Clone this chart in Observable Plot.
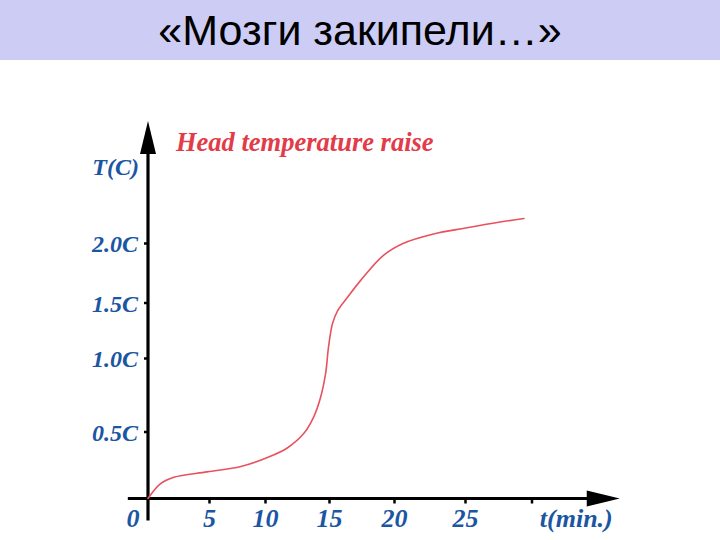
<!DOCTYPE html>
<html>
<head>
<meta charset="utf-8">
<script src="https://cdn.jsdelivr.net/npm/d3@7"></script>
<script src="https://cdn.jsdelivr.net/npm/@observablehq/plot@0.6"></script>
<style>
  html, body { margin: 0; padding: 0; background: #ffffff; }
  #header {
    width: 720px; height: 60px; background: #ccccf5;
    font-family: "Liberation Sans", Arial, sans-serif; font-size: 43px;
    line-height: 60px; text-align: center; color: #000;
  }
  #chart { width: 720px; height: 480px; }
</style>
</head>
<body>
<div id="header">«Мозги закипели…»</div>
<div id="chart"></div>
<script>
// ---- data ----
const timeMin = [0, 1.0, 2.1, 4.8, 7.8, 10.2, 11.7, 13.0, 13.75, 14.3, 14.7, 14.92, 15.23, 15.62, 16.4, 17.4, 19.15, 20.6, 22.75, 25.0, 27.6, 29.4];
const tempC   = [0, 0.11, 0.16, 0.20, 0.24, 0.31, 0.38, 0.49, 0.60, 0.735, 0.90, 1.10, 1.315, 1.43, 1.55, 1.69, 1.90, 2.00, 2.08, 2.13, 2.18, 2.21];
const xTickValues = [5, 10, 15, 20, 25, 30];
const xTickLabels = ["5", "10", "15", "20", "25", ""];
const yTickValues = [0.5, 1.0, 1.5, 2.0];
const yTickLabels = ["0.5C", "1.0C", "1.5C", "2.0C"];
const xAxisExtent = [-1.6, 36.6];   // axis line from .. to arrow tip (minutes)
const yAxisExtent = [-0.17, 3.03];  // axis line from .. to arrow tip (degrees)
const chartTitle = "Head temperature raise";
const yAxisLabel = "T(C)";
const xAxisLabel = "t(min.)";
const originLabel = "0";

const points = timeMin.map((t, i) => ({t, T: tempC[i]}));

const blue = "#1b56a3";
const serif = "Liberation Serif, Times New Roman, serif";

const arrowUp = {draw(ctx) { ctx.moveTo(0, 0); ctx.lineTo(8, 33); ctx.lineTo(-8, 33); ctx.closePath(); }};
const arrowRight = {draw(ctx) { ctx.moveTo(0, 0); ctx.lineTo(-33, 8); ctx.lineTo(-33, -8); ctx.closePath(); }};
const tickDown = {draw(ctx) { ctx.moveTo(0, 1); ctx.lineTo(0, 5); }};
const tickLeft = {draw(ctx) { ctx.moveTo(-1, 0); ctx.lineTo(-4, 0); }};

const plot = Plot.plot({
  width: 720,
  height: 480,
  margin: 0,
  style: {background: "#ffffff", overflow: "visible"},
  x: {type: "linear", domain: [0, 5, 10, 15, 20, 25, 30], range: [147.5, 209, 265, 329, 394, 465, 531.5], axis: null},
  y: {type: "linear", domain: [0, 0.5, 1.0, 1.5, 2.0], range: [438, 371.5, 298, 242.5, 183], axis: null},
  marks: [
    // axes lines
    Plot.ruleY([0], {x1: () => xAxisExtent[0], x2: () => xAxisExtent[1] - 1, stroke: "#000", strokeWidth: 3.2}),
    Plot.ruleX([0], {y1: () => yAxisExtent[0], y2: () => yAxisExtent[1] - 0.1, stroke: "#000", strokeWidth: 3.2}),
    // arrowheads
    Plot.dot([yAxisExtent[1]], {x: () => 0, y: d => d, symbol: arrowUp, fill: "#000", stroke: "none"}),
    Plot.dot([xAxisExtent[1]], {x: d => d, y: () => 0, symbol: arrowRight, fill: "#000", stroke: "none"}),
    // tick marks
    Plot.dot(xTickValues, {x: d => d, y: () => 0, symbol: tickDown, stroke: "#000", strokeWidth: 2.5, fill: "none"}),
    Plot.dot(yTickValues, {x: () => 0, y: d => d, symbol: tickLeft, stroke: "#000", strokeWidth: 2.5, fill: "none"}),
    // tick labels
    Plot.text(xTickValues, {x: d => d, y: () => 0, text: (d, i) => xTickLabels[i], dy: 20, fill: blue,
      fontFamily: serif, fontSize: 26, fontWeight: "bold", fontStyle: "italic", textAnchor: "middle"}),
    Plot.text([0], {x: d => d, y: () => 0, text: () => originLabel, dx: -15, dy: 20, fill: blue,
      fontFamily: serif, fontSize: 26, fontWeight: "bold", fontStyle: "italic", textAnchor: "middle"}),
    Plot.text(yTickValues, {x: () => 0, y: d => d, text: (d, i) => yTickLabels[i], dx: -10, dy: 1, fill: blue,
      fontFamily: serif, fontSize: 24, fontWeight: "bold", fontStyle: "italic", textAnchor: "end"}),
    // axis labels
    Plot.text([yAxisExtent[1]], {x: () => 0, y: d => d, text: () => yAxisLabel, dx: -9, dy: 46, fill: blue,
      fontFamily: serif, fontSize: 24, fontWeight: "bold", fontStyle: "italic", textAnchor: "end"}),
    Plot.text([xAxisExtent[1]], {x: d => d, y: () => 0, text: () => xAxisLabel, dx: -7, dy: 20, fill: blue,
      fontFamily: serif, fontSize: 26, fontWeight: "bold", fontStyle: "italic", textAnchor: "end"}),
    // chart title
    Plot.text([yAxisExtent[1]], {x: () => 0, y: d => d, text: () => chartTitle, dx: 28, dy: 22, fill: "#e33b48",
      fontFamily: serif, fontSize: 26.5, fontWeight: "bold", fontStyle: "italic", textAnchor: "start"}),
    // the curve
    Plot.line(points, {x: "t", y: "T", curve: "catmull-rom", stroke: "#e8525f", strokeWidth: 1.6})
  ]
});
document.getElementById("chart").appendChild(plot);
</script>
</body>
</html>
